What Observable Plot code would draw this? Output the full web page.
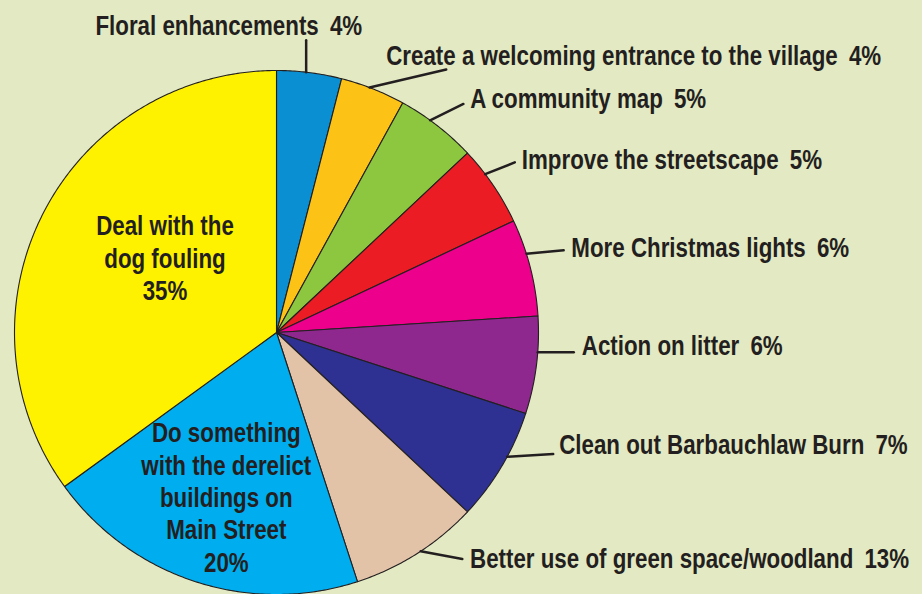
<!DOCTYPE html>
<html><head><meta charset="utf-8">
<script src="https://cdn.jsdelivr.net/npm/d3@7"></script>
<script src="https://cdn.jsdelivr.net/npm/@observablehq/plot@0.6"></script>
<style>
html,body{margin:0;padding:0;background:#e3e9c2;}
#chart svg{display:block}
</style></head><body><div id="chart"></div>
<script>
// Slices clockwise from 12 o'clock
const categories = [
  "Floral enhancements",
  "Create a welcoming entrance to the village",
  "A community map",
  "Improve the streetscape",
  "More Christmas lights",
  "Action on litter",
  "Clean out Barbauchlaw Burn",
  "Better use of green space/woodland",
  "Do something\nwith the derelict\nbuildings on\nMain Street",
  "Deal with the\ndog fouling"
];
// drawn slice sizes (share of the circle, %)
const shares = [4, 4, 5, 5, 6, 6, 7, 8, 20, 35];
// printed percentages
const pctLabels = ["4%", "4%", "5%", "5%", "6%", "6%", "7%", "13%", "20%", "35%"];
const colors = ["#0a8fd3", "#fdc216", "#8dc63f", "#ec1c24", "#ec008c", "#8e278e", "#2e3192", "#e2c3a8", "#00adee", "#fff200"];

// label layout (pixels / degrees): leader start shift from slice middle,
// leader vector, text offset from leader end, anchor; inner labels: block centre offset
const layout = [
  {shift: -0.7, lead: [0, -32], anchor: "end", tx: 56, ty: -14},
  {shift: -0.8, lead: [76.7, -18], anchor: "start", tx: -60, ty: -13.5},
  {shift: -1.9, lead: [33.3, -16.3], anchor: "start", tx: 6.7, ty: -4.2},
  {shift: -3.0, lead: [29.6, -11.7], anchor: "start", tx: 7, ty: -2.3},
  {shift: -3.1, lead: [37.3, -3.4], anchor: "start", tx: 7.7, ty: -2},
  {shift: -2.9, lead: [36, 0], anchor: "start", tx: 8, ty: -6},
  {shift: -2.3, lead: [46, -2.6], anchor: "start", tx: 6, ty: -8.7},
  {shift: -1.0, lead: [41.6, 7.7], anchor: "start", tx: 7.7, ty: 0.3},
  {inside: true, pos: [-50.2, 165.8]},
  {inside: true, pos: [-111.5, -73.5]}
];

const W = 922, H = 594, CX = 276, CY = 332, R = 262;
const FONT_SIZE = 27, SQUEEZE = 0.827, LINE_H = 32.3;
const pie = d3.pie().sort(null).value(d => d)(shares);

// slice polygons (angles clockwise from top, unit circle)
const polys = [];
pie.forEach((p, i) => {
  polys.push({key: i, x: 0, y: 0, color: colors[i]});
  const n = Math.max(2, Math.ceil((p.endAngle - p.startAngle) / (Math.PI / 360)));
  for (let k = 0; k <= n; k++) {
    const a = p.startAngle + (p.endAngle - p.startAngle) * k / n;
    polys.push({key: i, x: Math.sin(a), y: Math.cos(a), color: colors[i]});
  }
});

const px = v => v / R; // pixel offset -> data units
const leaders = [], labels = [], inner = [];
pie.forEach((p, i) => {
  const L = layout[i];
  if (L.inside) {
    const lines = (categories[i] + "\n" + pctLabels[i]).split("\n");
    lines.forEach((t, j) => {
      inner.push({x: px(L.pos[0]), y: -px(L.pos[1] + (j - (lines.length - 1) / 2) * LINE_H), text: t});
    });
    return;
  }
  const a = (p.startAngle + p.endAngle) / 2 + L.shift * Math.PI / 180;
  const sx = Math.sin(a), sy = Math.cos(a);
  const ex = sx + px(L.lead[0]), ey = sy - px(L.lead[1]);
  leaders.push({key: i, x: sx, y: sy}, {key: i, x: ex, y: ey});
  labels.push({x: ex + px(L.tx), y: ey - px(L.ty), text: categories[i] + "\u2002" + pctLabels[i], anchor: L.anchor});
});

const font = "'Liberation Sans', Arial, sans-serif";
const textStyle = {fontFamily: font, fontWeight: "bold", fontSize: FONT_SIZE, fill: "#231f20", className: "lbl"};
const chart = Plot.plot({
  width: W, height: H,
  margin: 0,
  style: {background: "#e3e9c2", overflow: "visible"},
  x: {domain: [-CX / R, (W - CX) / R], range: [0, W], axis: null},
  y: {domain: [-(H - CY) / R, CY / R], range: [H, 0], axis: null},
  color: {type: "identity"},
  marks: [
    Plot.line(polys, {x: "x", y: "y", z: "key", fill: "color", stroke: "#231f20", strokeWidth: 1.1, curve: "linear-closed"}),
    Plot.line(leaders, {x: "x", y: "y", z: "key", stroke: "#231f20", strokeWidth: 2.5}),
    Plot.text(labels.filter(d => d.anchor === "start"), {x: "x", y: "y", text: "text", textAnchor: "start", ...textStyle}),
    Plot.text(labels.filter(d => d.anchor === "end"), {x: "x", y: "y", text: "text", textAnchor: "end", ...textStyle}),
    Plot.text(inner, {x: "x", y: "y", text: "text", textAnchor: "middle", ...textStyle})
  ]
});
document.getElementById("chart").appendChild(chart);
// condensed lettering: squeeze each label horizontally about its anchor point
chart.querySelectorAll("g.lbl text").forEach(t => {
  const tr = t.getAttribute("transform");
  if (tr) {
    t.setAttribute("transform", `${tr} scale(${SQUEEZE},1)`);
  } else {
    const x = +t.getAttribute("x") || 0, y = +t.getAttribute("y") || 0;
    t.setAttribute("transform", `translate(${x},${y}) scale(${SQUEEZE},1) translate(${-x},${-y})`);
  }
});
</script></body></html>
